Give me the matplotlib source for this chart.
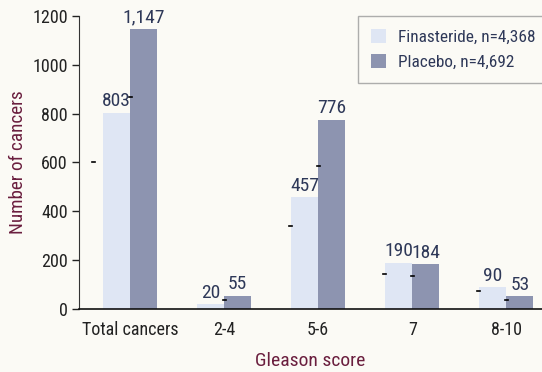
import matplotlib
matplotlib.use("Agg")
import matplotlib.pyplot as plt
import numpy as np

categories = ["Total cancers", "2-4", "5-6", "7", "8-10"]
finasteride = [803, 20, 457, 190, 90]
placebo = [1147, 55, 776, 184, 53]
finasteride_labels = ["803", "20", "457", "190", "90"]
placebo_labels = ["1,147", "55", "776", "184", "53"]
# small dash marks drawn at the left edge of the bars
fin_marks = [600, None, 340, 145, 72]
pla_marks = [870, 35, 585, 135, 38]
y_ticks = [0, 200, 400, 600, 800, 1000, 1200]

plt.rcParams["font.family"] = ["Roboto Condensed", "DejaVu Sans"]

bg = "#fbfaf5"
c_fin = "#dfe6f4"
c_pla = "#8d94b0"
c_lbl = "#2e3858"
c_axis = "#6a1e3e"

fig = plt.figure(figsize=(5.42, 3.72), dpi=100, facecolor=bg)
ax = fig.add_axes([0.1458, 0.1694, 0.8542, 0.7876], facecolor=bg)

x = np.arange(len(categories))
w = 0.287
ax.bar(x - w / 2, finasteride, w, color=c_fin, label="Finasteride, n=4,368")
ax.bar(x + w / 2, placebo, w, color=c_pla, label="Placebo, n=4,692")

for xi, v, t in zip(x, finasteride, finasteride_labels):
    ax.text(xi - w / 2, v + 10, t, ha="center", va="bottom", fontsize=14, color=c_lbl)
for xi, v, t in zip(x, placebo, placebo_labels):
    ax.text(xi + w / 2, v + 10, t, ha="center", va="bottom", fontsize=14, color=c_lbl)

for i, (xi, m) in enumerate(zip(x, fin_marks)):
    if m is not None:
        off = 0.1 if i == 0 else 0.0
        ax.plot([xi - w - 0.02 - off, xi - w + 0.01 - off], [m, m], color="black", lw=1.2)
for xi, m in zip(x, pla_marks):
    if m is not None:
        ax.plot([xi - 0.01, xi + 0.02], [m, m], color="black", lw=1.2)

ax.set_xlim(-0.543, 4.38)
ax.set_ylim(0, 1200)
ax.set_yticks(y_ticks)
ax.set_xticks(x)
ax.set_xticklabels(categories)
ax.tick_params(axis="x", length=0, labelsize=13, pad=9, colors="#222222")
ax.tick_params(axis="y", length=5, width=1, direction="out", labelsize=13, pad=3, colors="#222222")

for s in ["top", "right"]:
    ax.spines[s].set_visible(False)
ax.spines["left"].set_color("#333333")
ax.spines["bottom"].set_color("#111111")
ax.spines["bottom"].set_linewidth(1.2)

ax.set_ylabel("Number of cancers", fontsize=13.8, color=c_axis, labelpad=4)
ax.set_xlabel("Gleason score", fontsize=14, color=c_axis, labelpad=9)

leg = ax.legend(loc="upper left", bbox_to_anchor=(0.6026, 1.0), fontsize=12.4,
                frameon=True, fancybox=False, edgecolor="#9a9a9a",
                handlelength=0.85, handleheight=0.85, borderpad=0.75,
                labelspacing=0.55, handletextpad=0.75, borderaxespad=0.0)
leg.get_frame().set_facecolor(bg)
leg.get_frame().set_linewidth(1)
for t in leg.get_texts():
    t.set_color(c_lbl)

fig.savefig("out.png", dpi=100, facecolor=bg)
